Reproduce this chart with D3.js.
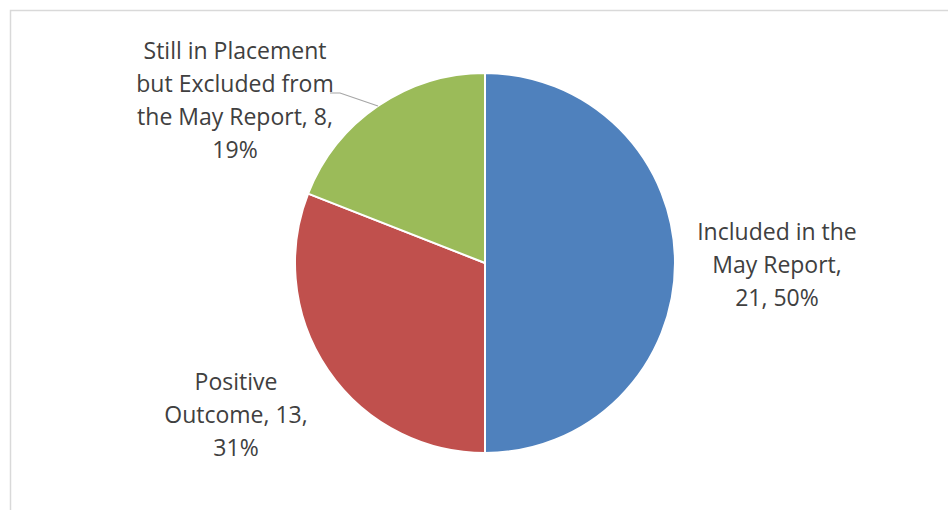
<!DOCTYPE html>
<html><head><meta charset="utf-8">
<script src="https://cdn.jsdelivr.net/npm/d3@7"></script>
<style>html,body{margin:0;padding:0;background:#fff;}svg{display:block;}</style>
</head><body>
<svg id="c" width="948" height="510"></svg>
<script>
const categories = ["Included in the May Report", "Positive Outcome", "Still in Placement but Excluded from the May Report"];
const values = [21, 13, 8];
const percents = ["50%", "31%", "19%"];
const labelLines = [
  ["Included in the", "May Report,", "21, 50%"],
  ["Positive", "Outcome, 13,", "31%"],
  ["Still in Placement", "but Excluded from", "the May Report, 8,", "19%"]
];
const colors = ["#4F81BD", "#C0504D", "#9BBB59"];

const svg = d3.select("#c");
svg.append("rect").attr("x", 10.5).attr("y", 10.5).attr("width", 1000).attr("height", 600)
  .attr("fill", "#fff").attr("stroke", "#d9d9d9").attr("stroke-width", 1.5);

const cx = 485, cy = 263, r = 190;
const g = svg.append("g").attr("transform", `translate(${cx},${cy})`);
const pie = d3.pie().sort(null).value(d => d);
const arcs = pie(values);
const arc = d3.arc().innerRadius(0).outerRadius(r);
g.selectAll("path").data(arcs).join("path")
  .attr("d", arc).attr("fill", (d, i) => colors[i])
  .attr("stroke", "#fff").attr("stroke-width", 2).attr("stroke-linejoin", "round");

// label anchor (center of text block, relative to pie center) — layout only
const labelPos = [[292, 2], [-249, 152], [-250, -163]];
const lineH = 33;
const fontSize = 23;
arcs.forEach((a, i) => {
  const lines = labelLines[i];
  const [lx, ly] = labelPos[i];
  const t = g.append("text").attr("text-anchor", "middle")
    .attr("font-family", "'Open Sans', sans-serif")
    .attr("font-size", fontSize).attr("fill", "#404040");
  const y0 = ly - (lines.length - 1) * lineH / 2;
  lines.forEach((s, k) => {
    t.append("tspan").attr("x", lx).attr("y", y0 + k * lineH).attr("dy", "0.35em").text(s);
  });
});

// leader line for the green slice
const ga = arcs[2];
const mid = (ga.startAngle + ga.endAngle) / 2;
const p0 = [Math.sin(mid) * r, -Math.cos(mid) * r];
g.append("polyline")
  .attr("points", [p0, [-145, -170], [-155, -170]].map(p => p.join(",")).join(" "))
  .attr("fill", "none").attr("stroke", "#a6a6a6").attr("stroke-width", 1.2);
</script>
</body></html>
